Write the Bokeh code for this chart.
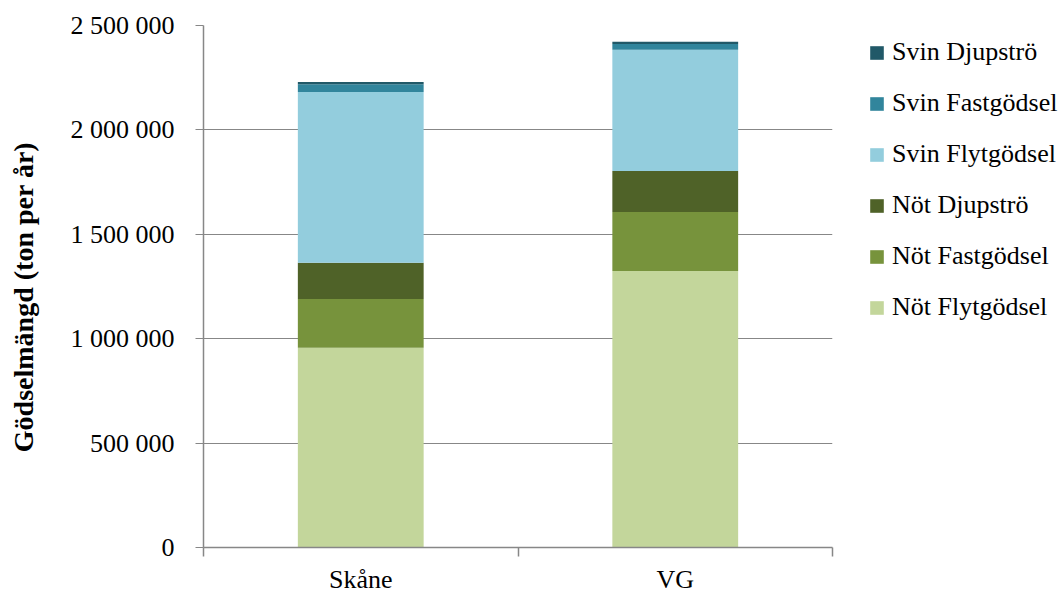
from bokeh.plotting import figure
from bokeh.models import (ColumnDataSource, Range1d, FixedTicker, Legend, LegendItem,
                          CustomJSTickFormatter)
from bokeh.embed import file_html
from bokeh.resources import INLINE

categories = ["Skåne", "VG"]
series_names = ["Nöt Flytgödsel", "Nöt Fastgödsel", "Nöt Djupströ",
                "Svin Flytgödsel", "Svin Fastgödsel", "Svin Djupströ"]
not_flyt = [957000, 1324000]
not_fast = [233000, 283000]
not_djup = [174000, 196000]
svin_flyt = [817000, 581000]
svin_fast = [38000, 27000]
svin_djup = [11000, 11000]
y_ticks = [0, 500000, 1000000, 1500000, 2000000, 2500000]

colors = ["#C3D69B", "#77933C", "#4F6228", "#93CDDD", "#31859C", "#215968"]
keys = ["not_flyt", "not_fast", "not_djup", "svin_flyt", "svin_fast", "svin_djup"]

x = [i + 0.5 for i in range(len(categories))]
source = ColumnDataSource(dict(x=x, not_flyt=not_flyt, not_fast=not_fast, not_djup=not_djup,
                               svin_flyt=svin_flyt, svin_fast=svin_fast, svin_djup=svin_djup))

FONT = "Liberation Serif"
GRAY = "#878787"
FW, FH = 629, 522

p = figure(frame_width=FW, frame_height=FH, output_backend="svg", toolbar_location=None,
           x_range=Range1d(0, len(categories)), y_range=Range1d(0, 2500000),
           min_border_left=203, min_border_right=230, min_border_top=25, min_border_bottom=40)
p.outline_line_color = None
p.background_fill_color = "white"
p.border_fill_color = "white"

renderers = p.vbar_stack(keys, x="x", width=0.4, source=source, color=colors, line_color=None)

# grid
p.xgrid.grid_line_color = None
p.ygrid.grid_line_color = GRAY
p.ygrid.grid_line_width = 1
p.ygrid.ticker = FixedTicker(ticks=y_ticks)

# y axis
p.yaxis.ticker = FixedTicker(ticks=y_ticks)
p.yaxis.formatter = CustomJSTickFormatter(code="""
    return Math.round(tick).toString().replace(/\\B(?=(\\d{3})+(?!\\d))/g, ' ');
""")
p.yaxis.axis_label = "Gödselmängd (ton per år)\u00a0\u00a0\u00a0"
p.yaxis.axis_label_text_font = FONT
p.yaxis.axis_label_text_font_style = "bold"
p.yaxis.axis_label_text_font_size = "28px"
p.yaxis.axis_label_text_color = "black"
p.yaxis.axis_label_standoff = 29
p.yaxis.major_label_text_font = FONT
p.yaxis.major_label_text_font_size = "26px"
p.yaxis.major_label_text_color = "black"
p.yaxis.major_label_standoff = 21
p.yaxis.axis_line_color = GRAY
p.yaxis.axis_line_width = 1.5
p.yaxis.major_tick_line_color = GRAY
p.yaxis.major_tick_out = 8
p.yaxis.major_tick_in = 0
p.yaxis.minor_tick_line_color = None

# x axis (ticks at category boundaries, labels at centres)
p.xaxis.ticker = FixedTicker(ticks=x, minor_ticks=list(range(len(categories) + 1)))
p.xaxis.major_label_overrides = {xi: c for xi, c in zip(x, categories)}
p.xaxis.major_label_text_font = FONT
p.xaxis.major_label_text_font_size = "26px"
p.xaxis.major_label_text_color = "black"
p.xaxis.major_label_standoff = 8
p.xaxis.major_tick_line_color = None
p.xaxis.major_tick_out = 0
p.xaxis.major_tick_in = 0
p.xaxis.minor_tick_line_color = GRAY
p.xaxis.minor_tick_line_width = 1.5
p.xaxis.minor_tick_out = 9
p.xaxis.minor_tick_in = 0
p.xaxis.axis_line_color = GRAY
p.xaxis.axis_line_width = 1.5

items = [LegendItem(label=n, renderers=[r]) for n, r in zip(series_names, renderers)][::-1]
legend = Legend(items=items, location=(36, 225), border_line_color=None,
                background_fill_alpha=0, label_text_font=FONT, label_text_font_size="26px",
                label_text_color="black", glyph_width=17, glyph_height=17,
                label_standoff=7, spacing=21, padding=0, margin=0)
p.add_layout(legend, "right")

open("out.html", "w").write(file_html(p, INLINE))
